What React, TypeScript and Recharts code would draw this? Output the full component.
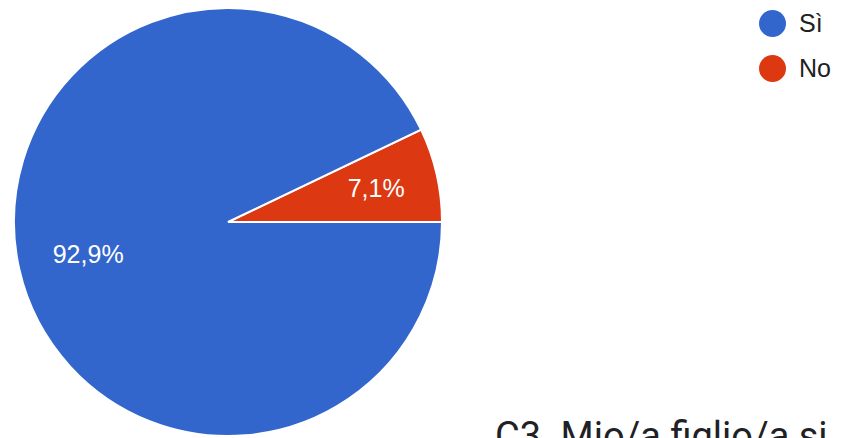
import { PieChart, Pie, Cell } from 'recharts';

// slices in drawing order (counterclockwise from 3 o'clock)
const labels = ['No', 'Sì'];
const values = [7.1, 92.9];
const COLORS = ['#dc3912', '#3366cc']; // rosso, blu

// legend shows Sì first
const legendOrder = [1, 0];

const data = labels.map((name, i) => ({ name, value: values[i] }));

const RADIAN = Math.PI / 180;

const renderLabel = (props: any) => {
    const { cx, cy, midAngle, outerRadius, value } = props;
    // small slice label sits a bit further out
    const r = outerRadius * (value < 50 ? 0.71 : 0.67);
    const x = cx + r * Math.cos(-midAngle * RADIAN);
    const y = cy + r * Math.sin(-midAngle * RADIAN);
    return (
        <text
            x={x}
            y={y}
            fill="#ffffff"
            textAnchor="middle"
            dominantBaseline="central"
            fontSize={25}
            fontFamily="'Liberation Sans', Arial, sans-serif"
        >
            {value.toFixed(1).replace('.', ',')}%
        </text>
    );
};

export default function App() {
    return (
        <div
            style={{
                position: 'absolute',
                left: 0,
                top: 0,
                width: 843,
                height: 438,
                overflow: 'hidden',
                background: '#ffffff',
                fontFamily: "'Liberation Sans', Arial, sans-serif",
            }}
        >
            <PieChart width={843} height={438} margin={{ top: 0, right: 0, bottom: 0, left: 0 }}>
                <Pie
                    data={data}
                    dataKey="value"
                    cx={228}
                    cy={222}
                    outerRadius={214}
                    startAngle={0}
                    endAngle={360}
                    stroke="#ffffff"
                    strokeWidth={2}
                    label={renderLabel}
                    labelLine={false}
                    isAnimationActive={false}
                >
                    {data.map((d, i) => (
                        <Cell key={d.name} fill={COLORS[i]} />
                    ))}
                </Pie>
            </PieChart>

            {legendOrder.map((idx, row) => (
                <div
                    key={labels[idx]}
                    style={{
                        position: 'absolute',
                        left: 759,
                        top: 10 + row * 45,
                        display: 'flex',
                        alignItems: 'center',
                        height: 27,
                    }}
                >
                    <span
                        style={{
                            width: 27,
                            height: 27,
                            borderRadius: '50%',
                            background: COLORS[idx],
                            display: 'inline-block',
                        }}
                    />
                    <span style={{ marginLeft: 13, fontSize: 25, color: '#212121' }}>
                        {labels[idx]}
                    </span>
                </div>
            ))}

            <div
                style={{
                    position: 'absolute',
                    left: 495,
                    top: 417,
                    fontFamily: 'Roboto',
                    fontSize: 38,
                    lineHeight: '38px',
                    color: '#202124',
                    whiteSpace: 'nowrap',
                }}
            >
                C3. Mio/a figlio/a si
            </div>
        </div>
    );
}
